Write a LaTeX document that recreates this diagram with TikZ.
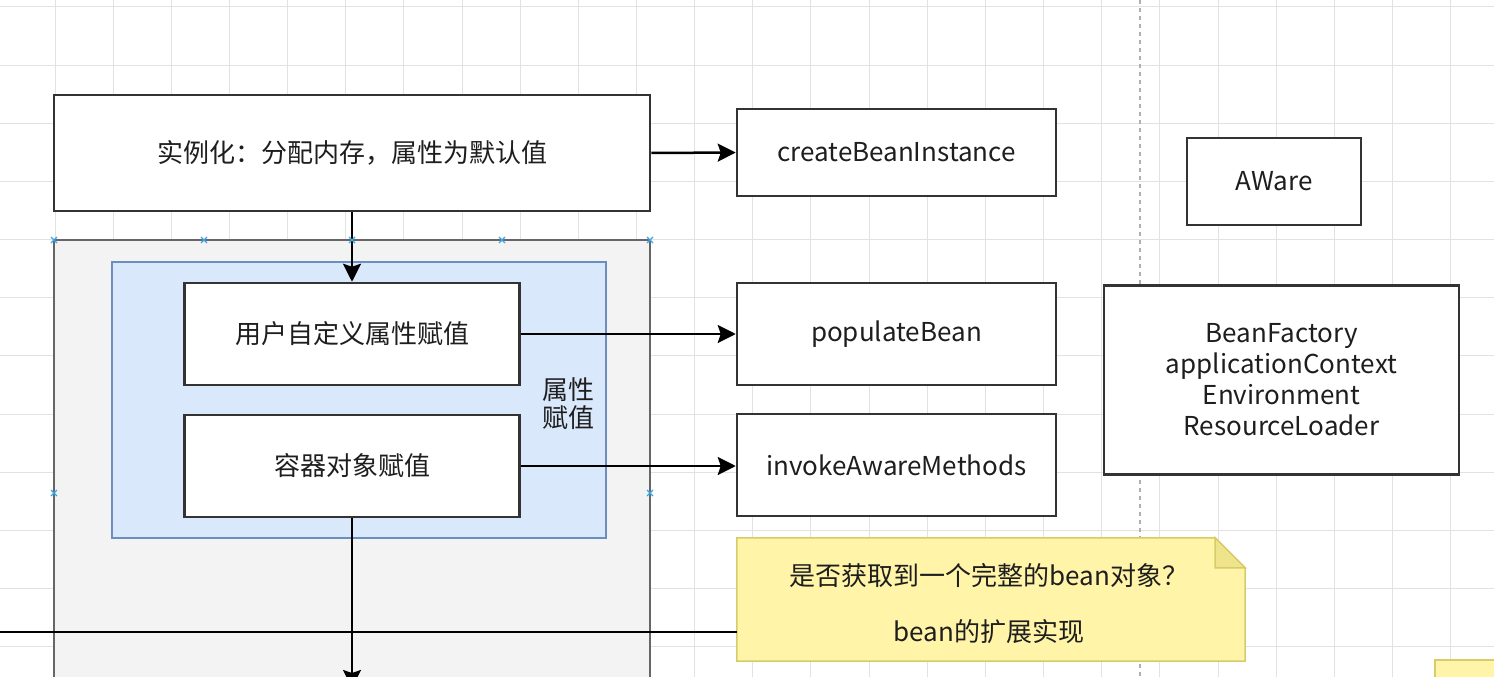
\documentclass[tikz,border=0pt]{standalone}
\usepackage{fontspec}
\setmainfont{Noto Sans CJK SC}
\usetikzlibrary{arrows.meta}
\definecolor{gridc}{HTML}{E2E2E2}
\definecolor{pagec}{HTML}{B0B0B0}
\definecolor{boxline}{HTML}{333333}
\definecolor{txt}{HTML}{1E1E1E}
\definecolor{contfill}{HTML}{F3F3F3}
\definecolor{contline}{HTML}{666666}
\definecolor{bluefill}{HTML}{DAE8FC}
\definecolor{blueline}{HTML}{6C8EBF}
\definecolor{notefill}{HTML}{FFF4A8}
\definecolor{noteline}{HTML}{D8CB6A}
\definecolor{notefold}{HTML}{EFE38C}
\definecolor{handlec}{HTML}{3BA7E0}
\tikzset{
  box/.style={draw=boxline, line width=2.5pt, fill=white, text=txt, inner sep=0pt,
    font=\fontsize{26}{31}\selectfont, align=center},
  gridline/.style={draw=gridc, line width=1pt},
  conn/.style={draw=black, line width=2.5pt, -{Stealth[length=18pt,width=18pt,inset=3pt]}},
  plainconn/.style={draw=black, line width=2.5pt},
  lbl/.style={text=txt, inner sep=0pt, font=\fontsize{26}{31}\selectfont, align=center},
  handle/.style={draw=handlec, line width=1.2pt},
}
\begin{document}
\begin{tikzpicture}[x=1pt,y=-1pt]
\useasboundingbox (0,0) rectangle (1494,677);
\clip (0,0) rectangle (1494,677);
\fill[white] (0,0) rectangle (1494,677);
% grid
\foreach \i in {0,...,26} { \draw[gridline] ({-3.15+58.15*\i},0) -- ++(0,677); }
\foreach \j in {0,...,11} { \draw[gridline] (0,{7+58.15*\j}) -- ++(1494,0); }
\draw[pagec, line width=1.2pt, dash pattern=on 4pt off 4pt] (1140,0) -- (1140,677);

% container and group
\node[draw=contline, fill=contfill, line width=2pt, minimum width=596pt, minimum height=506pt, inner sep=0pt] (cont) at (352,493) {};
\node[draw=blueline, fill=bluefill, line width=1.5pt, minimum width=494pt, minimum height=276pt, inner sep=0pt] (grp) at (359,400) {};
\node[lbl] (grplbl) at (568,404) {属性\\[-3pt]赋值};

% boxes
\node[box, minimum width=596pt, minimum height=116pt] (inst) at (352,153) {实例化：分配内存，属性为默认值};
\node[box, minimum width=319pt, minimum height=87pt] (cbi) at (896.5,152.5) {createBeanInstance};
\node[box, minimum width=174pt, minimum height=87pt] (aware) at (1274,181.5) {AWare};
\node[box, minimum width=335pt, minimum height=102pt] (user) at (352,334) {用户自定义属性赋值};
\node[box, minimum width=335pt, minimum height=102pt] (rq) at (352,466) {容器对象赋值};
\node[box, minimum width=319pt, minimum height=102pt] (pop) at (896.5,334) {populateBean};
\node[box, minimum width=319pt, minimum height=102pt] (iam) at (896.5,465) {invokeAwareMethods};
\node[box, minimum width=355pt, minimum height=189pt, font=\fontsize{26}{31}\selectfont] (bf) at (1281.5,380) {BeanFactory\\applicationContext\\Environment\\ResourceLoader};

% note
\node[minimum width=508pt, minimum height=123pt, inner sep=0pt] (note) at (991,599.5) {};
\draw[draw=noteline, fill=notefill, line width=1.5pt]
  (note.north west) -- ([xshift=-30pt]note.north east) -- ([yshift=-30pt]note.north east)
  -- (note.south east) -- (note.south west) -- cycle;
\draw[draw=noteline, fill=notefold, line width=1.5pt]
  ([xshift=-30pt]note.north east) -- ([xshift=-30pt,yshift=-30pt]note.north east) -- ([yshift=-30pt]note.north east) -- cycle;
\node[lbl] (notet1) at (989,576) {是否获取到一个完整的bean对象？};
\node[lbl] (notet2) at (989,632) {bean的扩展实现};

% small yellow box at bottom right
\node[draw=noteline, fill=notefill, line width=1.5pt, minimum width=80pt, minimum height=40pt, inner sep=0pt] (ybox) at (1475,680) {};

% connectors
\draw[conn] (inst.east) -- (cbi.west);
\draw[conn] (inst.south) -- (user.north);
\draw[conn] (user.east) -- (user.east -| pop.west);
\draw[conn] (rq.east) -- (rq.east -| iam.west);
\coordinate (downend) at (352,688);
\draw[conn] (rq.south) -- (downend);
\coordinate (leftend) at (-10,632);
\draw[plainconn] (leftend) -- (leftend -| note.west);

% selection handles
\foreach \hx/\hy in {54/240, 204/240, 352/240, 502/240, 650/240, 54/493, 650/493} {
  \draw[handle] ({\hx-3},{\hy-3}) -- ({\hx+3},{\hy+3});
  \draw[handle] ({\hx-3},{\hy+3}) -- ({\hx+3},{\hy-3});
}
\end{tikzpicture}
\end{document}
